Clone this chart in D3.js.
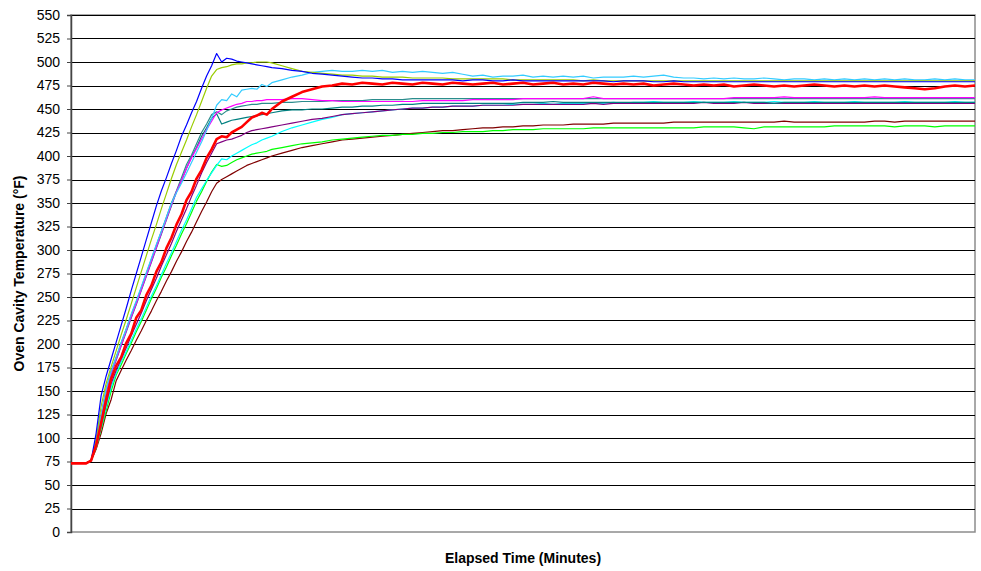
<!DOCTYPE html>
<html><head><meta charset="utf-8">
<script src="https://cdn.jsdelivr.net/npm/d3@7"></script>
<style>
body{margin:0;background:#fff}
svg{display:block}
text{font-family:"Liberation Sans",Arial,Helvetica,sans-serif;fill:#000}
</style>
</head><body>
<svg id="chart" width="981" height="571"></svg>
<script>
// elapsed time (minutes) sample points
const times=[0,1,2,3,4,5,6,7,8,9,10,11,12,13,14,15,16,17,18,19,20,21,22,23,24,25,26,27,28,29,30,31,32,33,34,35,36,37,38,39,40,
42,44,46,48,50,52,54,56,58,60,62,64,66,68,70,72,74,76,78,80,82,84,86,88,90,92,94,96,98,100,102,104,106,108,110,112,114,116,118,120,122,124,126,128,130,132,134,136,138,140,142,144,146,148,150,152,154,156,158,160,162,164,166,168,170,172,174,176,178,180];
const yTicks=[0,25,50,75,100,125,150,175,200,225,250,275,300,325,350,375,400,425,450,475,500,525,550];

const probeDarkRed=[73,73,73,73,76,88,105,126,141,161,172,183,193,204,214,225,235,246,256,267,277,288,298,309,319,330,341,351,362,
371,375,378,381,384,387,390,392,394,396,398,400,
403,406,409,411,413,415,417,418,419,420,
421,422,423,424,425,426,427,427,428,429,
430,430,431,431,432,432,433,433,433,434,
434,434,434,435,435,435,435,435,435,436,
436,436,436,436,436,436,436,436,436,436,
437,436,436,436,436,436,436,436,436,437,
437,436,437,437,437,437,437,437,437,437];
const probeGreen=[73,73,73,73,76,89,109,129,150,167,178,190,201,213,224,236,248,259,271,282,294,305,317,328,340,352,362,373,383,
391,389,390,393,396,398,400,402,403,404,405,407,
409,411,413,414,415,417,418,419,420,421,
422,422,423,423,424,424,425,425,426,426,
426,427,427,428,428,428,429,429,429,429,
429,430,430,430,430,430,430,430,430,430,
430,430,431,431,431,431,430,429,431,431,
431,431,431,431,431,432,432,432,432,432,
432,431,432,432,432,431,432,432,432,432];
const probeCyan=[73,73,73,73,76,90,111,133,154,169,181,192,204,216,227,239,251,262,274,286,297,309,321,332,344,356,365,374,382,
390,397,396,400,403,406,409,412,414,417,419,421,
426,430,433,436,439,441,444,445,446,447,
448,449,450,451,451,452,452,453,453,453,
454,454,454,455,455,455,456,455,456,456,
456,456,456,457,456,457,457,458,457,457,
457,458,457,457,457,458,457,457,457,458,
457,457,457,458,457,457,457,458,457,457,
457,457,458,457,457,457,457,458,457,457];
const probePurple=[73,73,73,73,76,91,113,136,158,172,184,196,209,221,233,246,258,270,283,295,307,320,332,344,357,369,382,393,403,
413,415,417,418,420,422,425,427,428,429,430,431,
433,435,437,439,440,442,444,445,446,447,
448,449,450,451,451,452,452,453,453,453,
454,454,454,454,455,455,455,455,455,455,
455,456,455,456,456,456,456,456,456,456,
456,456,457,456,456,456,457,456,456,456,
456,456,456,456,456,456,456,456,456,456,
456,456,456,456,456,456,456,456,456,456];
const probeTealB=[73,73,73,73,76,94,122,149,168,183,198,213,228,242,257,272,287,302,317,332,347,362,374,387,399,409,421,430,440,
445,434,436,438,439,440,441,442,443,444,445,446,
448,449,449,450,450,451,452,452,453,453,
454,454,455,455,456,456,456,456,456,456,
456,456,456,456,457,457,457,458,457,457,
457,457,457,457,457,457,457,457,457,457,
457,457,457,457,457,457,457,457,457,456,
457,457,457,457,457,457,457,457,457,457,
457,457,457,457,457,457,457,457,457,457];
const probeTealA=[73,73,73,73,76,96,125,152,171,186,201,216,231,245,260,275,290,305,320,335,350,363,377,391,401,413,425,434,444,
447,444,448,450,452,453,454,455,455,456,456,456,
457,457,458,458,458,459,459,459,459,460,
460,460,460,461,461,461,461,461,461,461,
461,461,461,461,461,461,461,461,461,461,
461,461,461,461,461,461,461,461,461,461,
461,461,461,461,461,461,461,461,461,461,
461,461,461,461,461,461,461,461,461,461,
461,461,461,461,461,461,461,461,461,461];
const probeMagenta=[73,73,73,73,76,95,123,150,169,184,199,214,229,243,258,273,288,303,318,333,348,362,374,387,398,408,418,428,437,
446,449,451,453,455,456,458,458,459,459,460,460,
460,461,461,460,459,459,458,458,458,458,
458,458,458,458,459,459,459,459,459,460,
460,460,460,460,461,461,461,461,461,461,
461,463,461,461,461,461,461,461,461,461,
461,461,461,461,461,462,462,462,462,462,
463,462,462,462,462,462,462,462,462,463,
462,462,462,462,462,462,462,462,462,462];
const probeSky=[73,73,73,73,76,95,124,152,171,186,202,216,232,246,261,276,291,306,320,335,350,361,371,382,393,404,415,427,440,
454,460,459,466,463,470,471,472,471,476,474,478,
481,484,486,489,490,491,490,490,491,490,
491,489,490,489,490,489,488,489,487,485,
486,484,485,485,486,484,485,484,485,484,
485,483,484,484,484,485,484,485,486,484,
483,483,482,483,482,483,482,482,483,482,
481,482,482,481,482,481,482,481,482,481,
482,481,482,481,481,482,481,482,481,481];
const probeOlive=[73,73,73,73,76,99,134,158,176,193,210,226,243,260,277,294,311,327,344,360,376,391,404,417,431,444,458,472,485,
492,494,495,497,498,498,499,499,500,500,500,499,
496,493,490,489,488,487,486,486,485,485,
484,484,484,483,483,483,483,482,482,482,
482,482,482,481,481,481,481,481,481,481,
480,481,480,480,480,480,480,480,480,480,
480,480,480,480,480,480,480,480,480,480,
480,480,480,480,480,480,480,480,480,480,
480,480,480,480,480,480,480,480,480,480];
const probeBlue=[73,73,73,73,76,105,145,166,184,202,220,238,257,275,293,311,329,347,363,377,392,406,421,433,446,458,472,485,496,
509,500,504,503,501,500,499,498,497,496,495,494,
493,491,490,488,487,486,485,484,483,483,
482,482,481,481,481,481,481,481,480,481,
481,480,480,481,480,480,480,480,480,480,
480,480,480,479,480,480,480,479,479,480,
479,479,479,479,479,479,479,479,479,479,
479,479,479,479,479,479,479,479,479,479,
479,479,479,479,479,479,479,479,479,479];
const probeRed=[73,73,73,73,76,92,116,141,163,177,186,201,211,228,236,252,262,277,287,302,313,327,338,353,362,376,385,398,407,
418,421,420,425,428,431,436,441,443,446,444,450,
458,463,468,471,474,475,477,476,478,477,
476,478,477,476,478,477,476,478,477,476,
477,478,476,477,478,476,477,478,476,477,
476,478,477,476,477,476,477,475,476,477,
476,475,476,475,476,474,475,476,475,474,
475,474,475,476,475,474,475,474,475,474,
475,474,473,472,471,472,474,475,474,475];

const series=[
  {values:probeDarkRed,color:"#800000",w:1.2},
  {values:probeGreen,color:"#00FF00",w:1.2},
  {values:probeCyan,color:"#00FFFF",w:1.2},
  {values:probePurple,color:"#800080",w:1.2},
  {values:probeTealB,color:"#008080",w:1.2},
  {values:probeTealA,color:"#2A8C8C",w:1.2},
  {values:probeMagenta,color:"#FF00FF",w:1.2},
  {values:probeSky,color:"#33CCFF",w:1.2},
  {values:probeOlive,color:"#99CC00",w:1.2},
  {values:probeBlue,color:"#0000FF",w:1.2},
  {values:probeRed,color:"#FF0000",w:2.6}
];

const svg=d3.select("#chart");
const L=71,R=975,T=15,B=532;
const x=d3.scaleLinear().domain([0,180]).range([L,R]);
const y=d3.scaleLinear().domain([0,550]).range([B,T]);

// plot area border (Excel style grey frame)
svg.append("rect").attr("x",L).attr("y",T).attr("width",R-L).attr("height",B-T)
  .attr("fill","#fff").attr("stroke","#8c8c8c").attr("stroke-width",1.5);

// gridlines
svg.append("g").selectAll("line").data(yTicks.filter(d=>d>0)).join("line")
  .attr("x1",L).attr("x2",R).attr("y1",d=>Math.round(y(d))+0.5).attr("y2",d=>Math.round(y(d))+0.5)
  .attr("stroke","#000").attr("stroke-width",1).attr("shape-rendering","crispEdges");

// left axis
const yAxis=d3.axisLeft(y).tickValues(yTicks).tickSize(4).tickPadding(7).tickFormat(d3.format("d"));
const ga=svg.append("g").attr("transform",`translate(${L},0)`).call(yAxis);
ga.select(".domain").attr("stroke","#444").attr("stroke-width",1.5);
ga.selectAll(".tick line").attr("stroke","#444");
ga.selectAll(".tick text").attr("font-size",14).attr("font-family","Liberation Sans, Arial, sans-serif").attr("fill","#000");

// lines
const line=d3.line().x((d,i)=>x(times[i])).y(d=>y(d));
svg.append("g").selectAll("path").data(series).join("path")
  .attr("d",s=>line(s.values)).attr("fill","none")
  .attr("stroke",s=>s.color).attr("stroke-width",s=>s.w).attr("stroke-linejoin","round");

// axis titles
svg.append("text").attr("x",(L+R)/2).attr("y",563).attr("text-anchor","middle")
  .attr("font-size",14).attr("font-weight","bold").text("Elapsed Time (Minutes)");
svg.append("text").attr("transform",`translate(24,${(T+B)/2}) rotate(-90)`).attr("text-anchor","middle")
  .attr("font-size",14).attr("font-weight","bold").text("Oven Cavity Temperature (°F)");
</script>
</body></html>
